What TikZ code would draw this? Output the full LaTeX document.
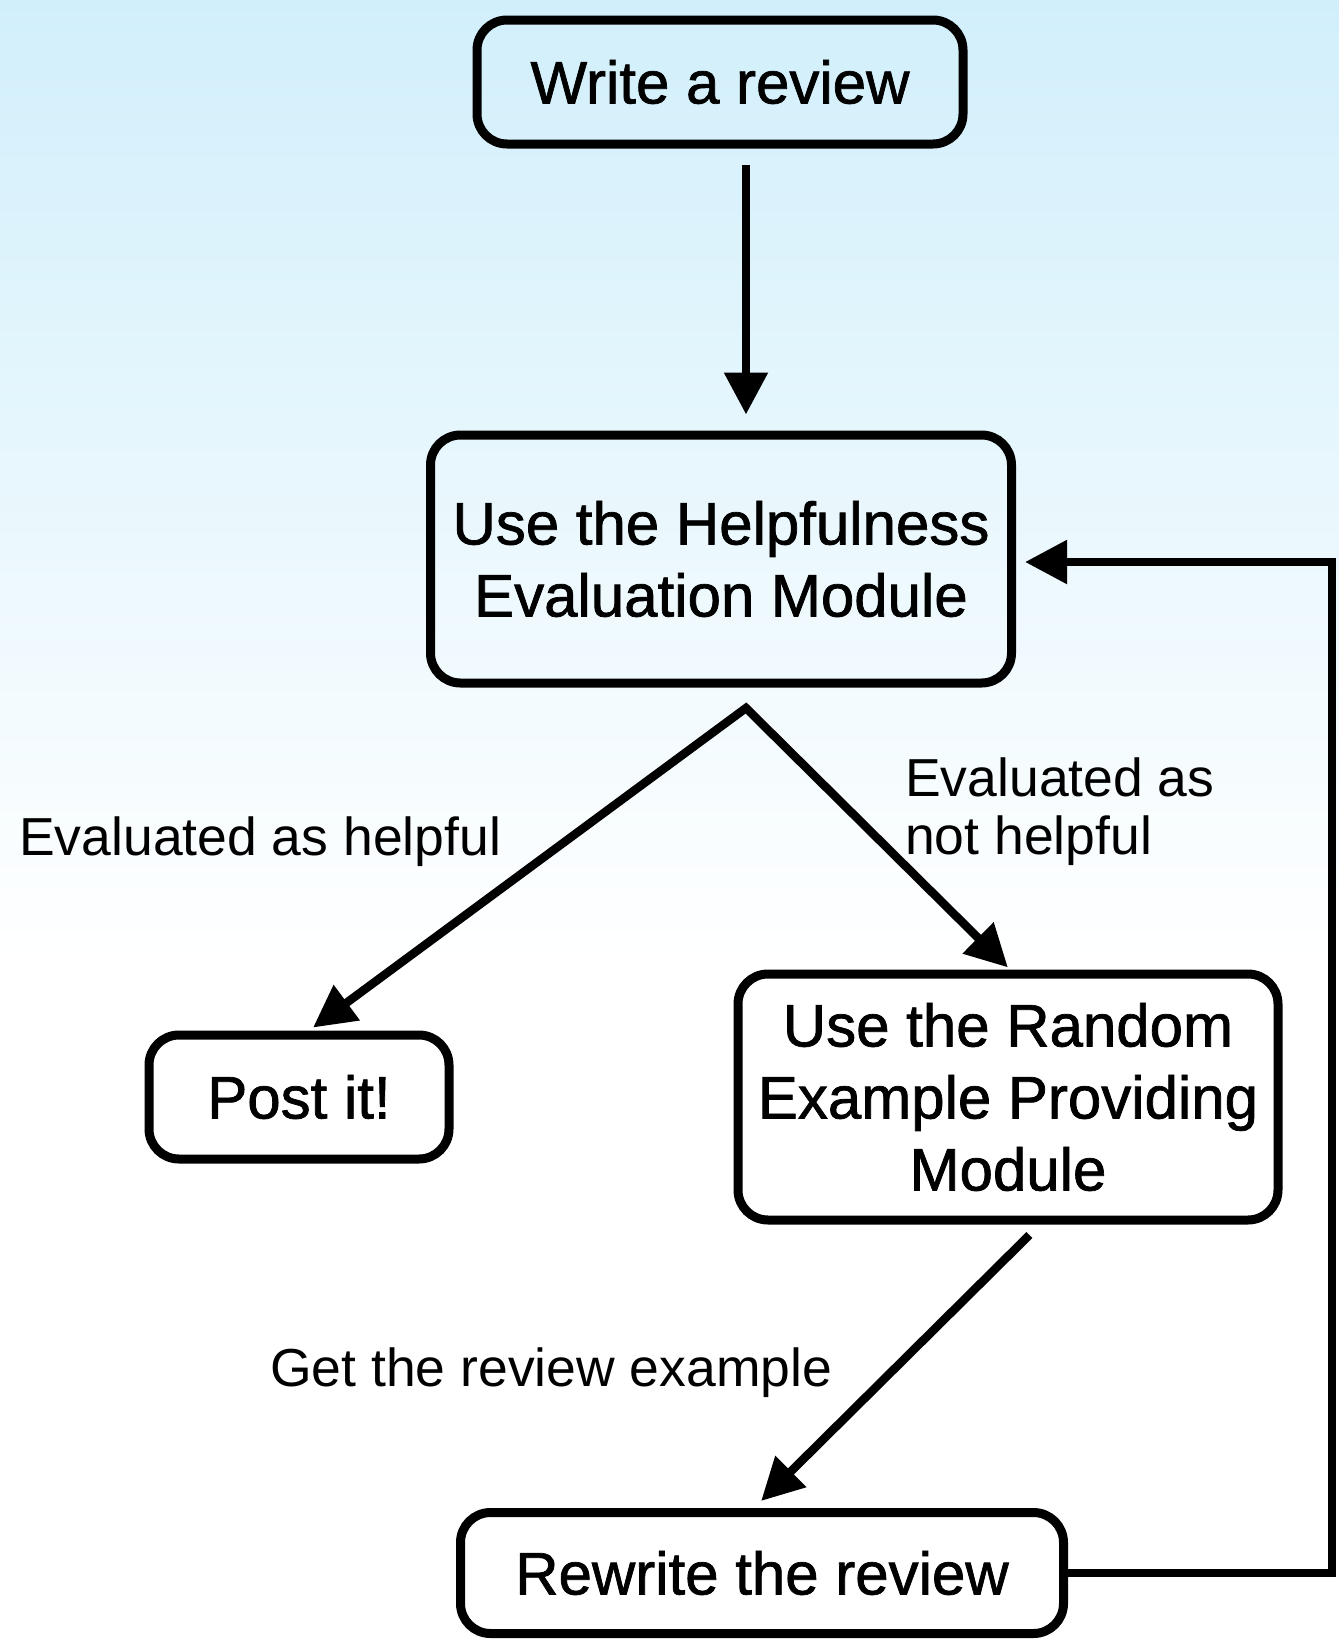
\documentclass[tikz,border=0pt]{standalone}
\usepackage{fontspec}
\setmainfont{Liberation Sans}
\newfontfamily\boxfont[FakeBold=1.2]{Liberation Sans}
\usetikzlibrary{arrows.meta}
\definecolor{bg_blue}{RGB}{209, 239, 251}
\definecolor{bg_light}{RGB}{221, 246, 253}
\tikzstyle{box}=[rectangle,rounded corners=30pt,draw=black,line width=9pt,
  align=center,font=\boxfont\fontsize{60}{72}\selectfont]
\tikzstyle{lbl}=[anchor=west,align=left,inner sep=0pt,
  font=\fontsize{53.5}{58}\selectfont]
\tikzstyle{flow}=[line width=8.5pt,line join=miter,->]
\tikzset{>={Triangle[length=42pt,width=42pt]}}

\begin{document}
\begin{tikzpicture}[x=1pt,y=-1pt]
    \useasboundingbox (0,0) rectangle (1339,1642);
    \fill [white] (0,0) rectangle (1339,1642);
    \shade [top color=bg_blue, middle color=bg_light, bottom color=white] (0,0) rectangle (1339,960);
    \node [style=box, minimum width=486pt, minimum height=124pt] (write) at (720,82) {Write a review};
    \node [style=box, minimum width=581pt, minimum height=248pt] (evalmod) at (721,559) {Use the Helpfulness\\Evaluation Module};
    \node [style=box, minimum width=300pt, minimum height=124pt] (post) at (299,1097) {Post it!};
    \node [style=box, minimum width=540pt, minimum height=246pt] (random) at (1008,1097) {Use the Random\\Example Providing\\Module};
    \node [style=box, minimum width=603pt, minimum height=121pt] (rewrite) at (762,1573) {Rewrite the review};
    \coordinate (split) at (746,708);
    \coordinate (loop) at (1332,562);
    \node [style=lbl] (helpful) at (19,842) {Evaluated as helpful};
    \node [style=lbl] (nothelpful) at (905,812) {Evaluated as\\not helpful};
    \node [style=lbl] (example) at (270,1373) {Get the review example};
    \draw [style=flow, shorten <=16pt, shorten >=16pt] (write.south -| split) to (evalmod.north -| split);
    \draw [style=flow, <->, shorten <=5pt, shorten >=3pt] ([xshift=10pt]post.north) to (split) to ([xshift=2pt]random.north);
    \draw [style=flow, shorten <=15pt, shorten >=10pt] ([xshift=32pt]random.south) to ([xshift=-8pt]rewrite.north);
    \draw [style=flow, shorten >=9pt] (rewrite.east) -| (loop) to (evalmod.east |- loop);
  \end{tikzpicture}
\end{document}
